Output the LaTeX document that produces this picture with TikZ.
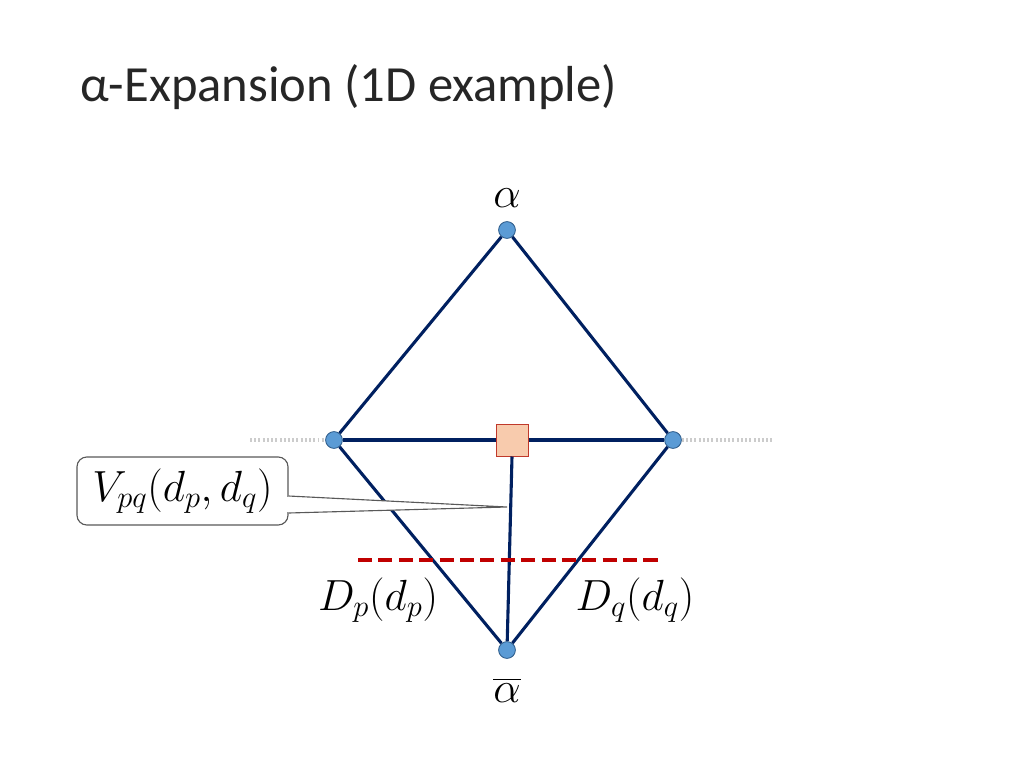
\RequirePackage{fix-cm}
\documentclass[tikz,border=0pt]{standalone}
\usepackage{amsmath}
\usepackage{fontspec}
\usepackage{xcolor}
\usepackage{tikz}
\usetikzlibrary{positioning, calc}
\newfontfamily\titlefont{Carlito}
\definecolor{edgenavy}{HTML}{002060}
\definecolor{vertexblue}{HTML}{5B9BD5}
\definecolor{vertexrim}{HTML}{2E5C8A}
\definecolor{cutred}{HTML}{C00000}
\definecolor{pairfill}{HTML}{F8CBAD}
\definecolor{pairrim}{HTML}{C0392B}
\definecolor{calloutgray}{HTML}{595959}
\tikzstyle{vertex} = [draw=vertexrim, fill=vertexblue, circle, inner sep=0pt, minimum size=0.42cm, line width=0.6pt]
\tikzstyle{pairnode} = [draw=pairrim, fill=pairfill, rectangle, inner sep=0pt, minimum size=0.8cm, line width=0.7pt]
\tikzstyle{mathlabel} = [font=\fontsize{31}{36}\selectfont, inner sep=0pt]
\tikzstyle{callbox} = [draw=calloutgray, fill=white, rectangle, rounded corners=7pt, minimum width=5.275cm, minimum height=1.7cm, line width=0.8pt, font=\fontsize{31}{36}\selectfont]
\tikzstyle{edge} = [line width=2.2pt, color=edgenavy]
\tikzstyle{guide} = [line width=2.2pt, color=gray!40, dash pattern=on 1.4pt off 1.6pt]
\tikzstyle{cutline} = [line width=2.8pt, color=cutred, dash pattern=on 10pt off 4.5pt]

\begin{document}
\begin{tikzpicture}[x=0.025cm, y=-0.025cm]
    \useasboundingbox (0,0) rectangle (1024,768);
    \node[anchor=base west, inner sep=0pt, font=\titlefont\fontsize{36}{43}\selectfont, text=black!85] (title) at (80,102) {α-Expansion (1D example)};

    \node (top) [vertex] at (507,230) {};
    \node (p) [vertex] at (334,440) {};
    \node (q) [vertex] at (673,440) {};
    \node (bot) [vertex] at (507,650) {};
    \coordinate (pl) at (250,440);
    \coordinate (qr) at (773,440);
    \coordinate (cutl) at (358,560);
    \coordinate (cutr) at (662,560);
    \coordinate (tip) at (507,507);

    % faint continuation of the 1D chain
    \draw [guide] (pl) -- (p);
    \draw [guide] (q) -- (qr);

    \node (pq) [pairnode] at (512,440) {};

    \draw [edge] (top) -- (p);
    \draw [edge] (top) -- (q);
    \draw [edge] (p) -- (bot);
    \draw [edge] (q) -- (bot);
    \draw [edge] (p) -- (pq);
    \draw [edge] (pq) -- (q);
    \draw [edge] (pq.south) -- (bot);

    \draw [cutline] (cutl) -- (cutr);

    \node (la) [mathlabel] at (507,198) {$\alpha$};
    \node (lab) [mathlabel] at (507,690) {$\overline{\alpha}$};
    \node (dp) [mathlabel] at (378,600) {$D_p(d_p)$};
    \node (dq) [mathlabel] at (635,600) {$D_q(d_q)$};

    % callout for the pairwise term
    \node (vbox) [callbox] at (182.5,491) {$V_{pq}(d_p,d_q)$};
    \filldraw [draw=calloutgray, fill=white, line width=0.8pt] ($(vbox.east)+(0,5)$) -- (tip) -- ($(vbox.east)+(0,22)$);
    \draw [white, line width=1.6pt] ($(vbox.east)+(0,6)$) -- ($(vbox.east)+(0,21)$);
\end{tikzpicture}
\end{document}
